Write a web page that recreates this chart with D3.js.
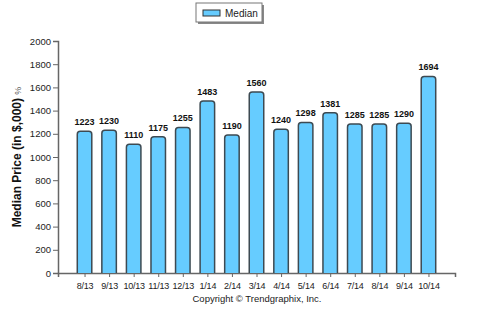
<!DOCTYPE html>
<html><head><meta charset="utf-8">
<script src="https://cdn.jsdelivr.net/npm/d3@7"></script>
<style>
body{margin:0;background:#fff;}
svg{display:block;font-family:"Liberation Sans",Arial,sans-serif;}
</style></head>
<body>
<svg id="chart" width="484" height="327"></svg>
<script>
const categories = ["8/13","9/13","10/13","11/13","12/13","1/14","2/14","3/14","4/14","5/14","6/14","7/14","8/14","9/14","10/14"];
const medianValues = [1223,1230,1110,1175,1255,1483,1190,1560,1240,1298,1381,1285,1285,1290,1694];
const yTicks = [0,200,400,600,800,1000,1200,1400,1600,1800,2000];

const svg = d3.select("#chart");
const x0 = 58, x1 = 455, yTop = 41, yBot = 273;

const x = d3.scalePoint().domain(categories).range([x0, x1]).padding(1.08);
const y = d3.scaleLinear().domain([0, 2000]).range([yBot, yTop]);
const barW = 14.5, r = 3;

// y axis
const yAxis = svg.append("g").attr("transform", `translate(${x0},0)`)
  .call(d3.axisLeft(y).tickValues(yTicks).tickSize(5).tickPadding(2).tickFormat(d3.format("d")));
yAxis.select(".domain").attr("stroke", "#666").attr("stroke-width", 1.5);
yAxis.selectAll(".tick line").attr("stroke", "#666");
yAxis.selectAll(".tick text").attr("fill", "#222").style("font-size", "9.5px");

// x axis
const xAxis = svg.append("g").attr("transform", `translate(0,${yBot})`)
  .call(d3.axisBottom(x).tickSize(4).tickPadding(6).tickSizeOuter(4));
xAxis.select(".domain").attr("stroke", "#666").attr("stroke-width", 1.5);
xAxis.selectAll(".tick line").attr("stroke", "#666");
xAxis.selectAll(".tick text").attr("fill", "#222").style("font-size", "9px").style("letter-spacing", "-0.2px");

// bars with rounded tops
function barPath(cx, top) {
  const l = cx - barW / 2, rr = cx + barW / 2;
  return `M${l},${yBot} L${l},${top + r} Q${l},${top} ${l + r},${top} L${rr - r},${top} Q${rr},${top} ${rr},${top + r} L${rr},${yBot}`;
}
svg.append("g").selectAll("path").data(medianValues).join("path")
  .attr("d", (d, i) => barPath(x(categories[i]), y(d)))
  .attr("fill", "#66ccff").attr("stroke", "#3d4a52").attr("stroke-width", 1.5);

// value labels
svg.append("g").selectAll("text").data(medianValues).join("text")
  .attr("x", (d, i) => x(categories[i]))
  .attr("y", d => y(d) - 6)
  .attr("text-anchor", "middle")
  .style("font-size", "9px").style("font-weight", "bold").attr("fill", "#111")
  .text(d => d);

// y axis title
const yt = svg.append("text")
  .attr("transform", "translate(21,157) rotate(-90)")
  .attr("text-anchor", "middle")
  .attr("fill", "#111");
yt.append("tspan").style("font-size", "12px").style("font-weight", "bold").text("Median Price (in $,000) ");
yt.append("tspan").style("font-size", "9px").attr("fill", "#555").text("%");

// legend
const lg = svg.append("g");
lg.append("rect").attr("x", 198).attr("y", 5).attr("width", 66).attr("height", 19).attr("fill", "#888");
lg.append("rect").attr("x", 196).attr("y", 3).attr("width", 66).attr("height", 19)
  .attr("fill", "#fff").attr("stroke", "#777").attr("stroke-width", 1);
lg.append("rect").attr("x", 203).attr("y", 10).attr("width", 17).attr("height", 6)
  .attr("fill", "#66ccff").attr("stroke", "#333").attr("stroke-width", 1);
lg.append("text").attr("x", 225).attr("y", 17).style("font-size", "10px").attr("fill", "#222").text("Median");

// copyright
svg.append("text").attr("x", 257).attr("y", 302).attr("text-anchor", "middle")
  .style("font-size", "9.5px").attr("fill", "#222").text("Copyright \u00A9 Trendgraphix, Inc.");
</script>
</body></html>
